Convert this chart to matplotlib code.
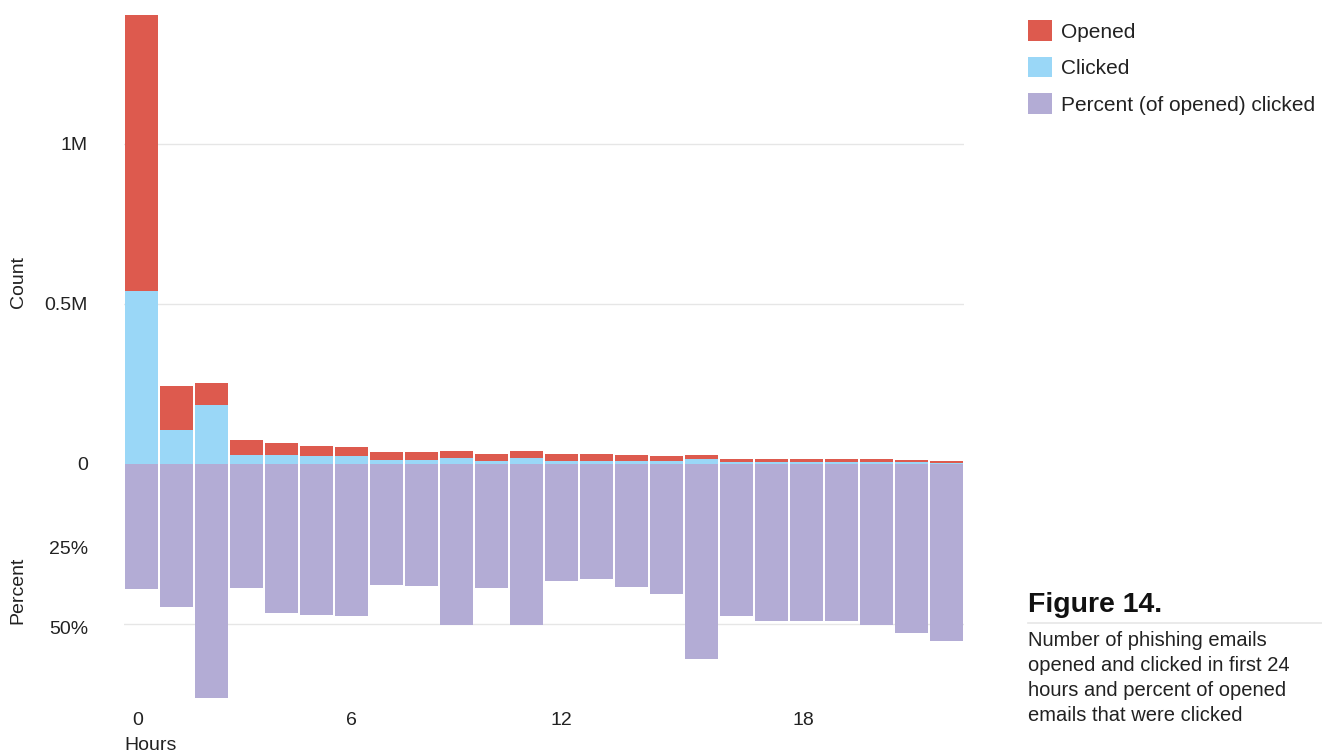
import matplotlib.pyplot as plt
from matplotlib.transforms import ScaledTranslation

plt.rcParams['font.family'] = ['Liberation Sans', 'DejaVu Sans']

hours = list(range(24))
# counts in millions
opened = [1.403, 0.244, 0.253, 0.075, 0.066, 0.056, 0.053, 0.0375, 0.0375, 0.041,
          0.031, 0.041, 0.031, 0.031, 0.028, 0.025, 0.028, 0.016, 0.016, 0.016,
          0.016, 0.016, 0.0125, 0.009]
clicked = [0.54, 0.106, 0.184, 0.028, 0.028, 0.025, 0.025, 0.0125, 0.0125, 0.019,
           0.009, 0.019, 0.009, 0.009, 0.009, 0.009, 0.016, 0.006, 0.006, 0.006,
           0.006, 0.006, 0.006, 0.003]
# percent of opened that were clicked
pct_clicked = [39.1, 44.7, 73.0, 38.75, 46.6, 47.2, 47.5, 37.8, 38.1, 50.3,
               38.75, 50.3, 36.6, 35.9, 38.4, 40.6, 60.9, 47.5, 49.1, 49.1,
               49.1, 50.3, 52.8, 55.3]

tick_pos = [-0.1, 6, 12, 18.9]
tick_labels = ['0', '6', '12', '18']

c_open = '#dd5a4e'
c_click = '#9ad7f7'
c_pct = '#b3acd5'
grid_c = '#e6e6e6'
txt_c = '#222222'

fig = plt.figure(figsize=(13.22, 7.55), dpi=100)
ax = fig.add_axes([124 / 1322, (755 - 700.8) / 755, 840 / 1322, 688 / 755])

for y in [1.0, 0.5, -0.5]:
    ax.axhline(y, color=grid_c, lw=1, zorder=0)

w = 0.92
ax.bar(hours, opened, width=w, color=c_open, zorder=2, label='Opened')
ax.bar(hours, clicked, width=w, color=c_click, zorder=3, label='Clicked')
ax.bar(hours, [-p / 100 for p in pct_clicked], width=w, color=c_pct, zorder=2,
       label='Percent (of opened) clicked')

ax.set_xlim(-0.5, 23.5)
ax.set_ylim(-0.74, 1.41)
for s in ax.spines.values():
    s.set_visible(False)
ax.tick_params(length=0, labelsize=14, colors=txt_c)
ax.set_xticks(tick_pos)
ax.set_xticklabels(tick_labels)
ax.tick_params(axis='x', pad=8)
ax.set_yticks([1.0, 0.5, 0, -0.25, -0.5])
ax.set_yticklabels(['1M', '0.5M', '0', '25%', '50%'])
ax.tick_params(axis='y', pad=26)
# percent labels sit a little lower in the original
for lab in ax.get_yticklabels()[3:]:
    lab.set_transform(lab.get_transform() + ScaledTranslation(0, -4 / 100, fig.dpi_scale_trans))

fig.text(18 / 1322, 1 - 282 / 755, 'Count', rotation=90, ha='center', va='center',
         fontsize=14, color=txt_c)
fig.text(18 / 1322, 1 - 590 / 755, 'Percent', rotation=90, ha='center', va='center',
         fontsize=14, color=txt_c)
fig.text(124 / 1322, 1 - 746 / 755, 'Hours', ha='left', va='center',
         fontsize=14, color=txt_c)

handles, labels = ax.get_legend_handles_labels()
fig.legend(handles, labels, loc='upper left', bbox_to_anchor=(1020 / 1322, 1 - 12 / 755),
           frameon=False, fontsize=15, handlelength=1.15, handleheight=1.15,
           handletextpad=0.43, labelspacing=0.72, borderaxespad=0,
           labelcolor=txt_c)

fig.text(1028 / 1322, 1 - 605 / 755, 'Figure 14.', ha='left', va='center',
         fontsize=20.5, fontweight='bold', color='#111111')
fig.add_artist(plt.Line2D([1028 / 1322, 1], [1 - 623 / 755] * 2, color=grid_c, lw=1.2))
fig.text(1028 / 1322, 1 - 631 / 755,
         'Number of phishing emails\nopened and clicked in first 24\n'
         'hours and percent of opened\nemails that were clicked',
         ha='left', va='top', fontsize=14.5, linespacing=1.4, color=txt_c)

fig.savefig('out.png', dpi=100)
